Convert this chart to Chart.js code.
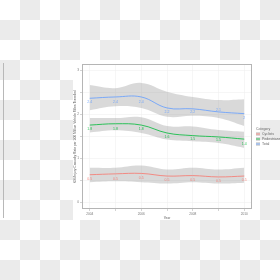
<!DOCTYPE html>
<html>
<head>
  <title>Casualty Rate Chart</title>
  <script src="https://cdn.jsdelivr.net/npm/chart.js@4.4.0/dist/chart.umd.min.js"></script>
  <style>
    body { margin: 0; width: 280px; height: 280px; overflow: hidden;
      background: repeating-conic-gradient(#ebebeb 0% 25%, #ffffff 0% 50%) 0 0 / 40px 40px; }
    #wrap { position: relative; width: 280px; height: 280px; }
    #rule { position: absolute; left: 3px; top: 63px; width: 1px; height: 155px; background: #b8b8b8; }
    canvas { position: absolute; left: 0; top: 0; }
  </style>
</head>
<body>
  <div id="wrap">
    <div id="rule"></div>
    <canvas id="chart" width="280" height="280"></canvas>
  </div>

  <script>
    // Data
    const years = [2004, 2005, 2006, 2007, 2008, 2009, 2010];
    const categories = ['Cyclists', 'Pedestrians', 'Total'];
    const colours = ['#F8766D', '#00BA38', '#619CFF'];

    // smoothed fit
    const fitCyclists = [0.63, 0.65, 0.66, 0.60, 0.61, 0.58, 0.60];
    const fitPedestrians = [1.76, 1.79, 1.76, 1.58, 1.52, 1.49, 1.44];
    const fitTotal = [2.37, 2.40, 2.40, 2.15, 2.13, 2.06, 2.02];

    // confidence band
    const upperCyclists = [0.79, 0.79, 0.84, 0.75, 0.79, 0.75, 0.79];
    const lowerCyclists = [0.46, 0.48, 0.46, 0.43, 0.46, 0.43, 0.45];
    const upperPedestrians = [1.92, 1.92, 1.94, 1.74, 1.73, 1.65, 1.61];
    const lowerPedestrians = [1.59, 1.64, 1.58, 1.43, 1.39, 1.35, 1.24];
    const upperTotal = [2.67, 2.60, 2.72, 2.52, 2.40, 2.33, 2.35];
    const lowerTotal = [2.10, 2.19, 2.15, 1.95, 1.97, 1.92, 1.74];

    // point labels (position and text)
    const pointsCyclists = [0.54, 0.54, 0.56, 0.50, 0.52, 0.48, 0.52];
    const pointsPedestrians = [1.67, 1.67, 1.67, 1.49, 1.45, 1.43, 1.33];
    const pointsTotal = [2.28, 2.28, 2.29, 2.06, 2.06, 2.10, 1.93];
    const textCyclists = ['0.5', '0.5', '0.5', '0.5', '0.5', '0.5', '0.5'];
    const textPedestrians = ['1.8', '1.8', '1.8', '1.6', '1.5', '1.5', '1.4'];
    const textTotal = ['2.4', '2.4', '2.4', '2.2', '2.2', '2.1', '2'];

    const xTickLabels = [2004, 2006, 2008, 2010];
    const yTickLabels = [0, 1, 2, 3];

    const fits = [fitCyclists, fitPedestrians, fitTotal];
    const uppers = [upperCyclists, upperPedestrians, upperTotal];
    const lowers = [lowerCyclists, lowerPedestrians, lowerTotal];
    const pointVals = [pointsCyclists, pointsPedestrians, pointsTotal];
    const pointText = [textCyclists, textPedestrians, textTotal];

    const pairs = arr => years.map((yr, i) => ({ x: yr, y: arr[i] }));

    const datasets = [];
    categories.forEach((name, k) => {
      datasets.push({
        label: name + ' upper', data: pairs(uppers[k]), fill: '+1',
        backgroundColor: 'rgba(150,150,150,0.36)', borderWidth: 0,
        pointRadius: 0, tension: 0.4, order: 3
      });
      datasets.push({
        label: name + ' lower', data: pairs(lowers[k]), fill: false,
        borderWidth: 0, pointRadius: 0, tension: 0.4, order: 3
      });
    });
    categories.forEach((name, k) => {
      datasets.push({
        label: name, data: pairs(fits[k]), borderColor: colours[k],
        borderWidth: 0.8, pointRadius: 0, tension: 0.4, fill: false, order: 1
      });
    });

    // white image box behind the plot
    const backdrop = {
      id: 'backdrop',
      beforeDraw(chart) {
        const ctx = chart.ctx;
        ctx.save();
        ctx.fillStyle = '#ffffff';
        ctx.fillRect(73, 60, 187, 160);
        ctx.restore();
      }
    };

    // value labels, panel border and legend
    const extras = {
      id: 'extras',
      afterDatasetsDraw(chart) {
        const ctx = chart.ctx;
        const xs = chart.scales.x, ys = chart.scales.y;
        ctx.save();
        ctx.font = '3.5px "Liberation Sans", Arial, sans-serif';
        ctx.textAlign = 'center';
        ctx.textBaseline = 'middle';
        ctx.globalAlpha = 0.85;
        categories.forEach((name, k) => {
          ctx.fillStyle = colours[k];
          years.forEach((yr, i) => {
            ctx.fillText(pointText[k][i], xs.getPixelForValue(yr), ys.getPixelForValue(pointVals[k][i]));
          });
        });
        ctx.globalAlpha = 1;
        const a = chart.chartArea;
        ctx.strokeStyle = '#b5b5b5';
        ctx.lineWidth = 1;
        ctx.strokeRect(a.left + 0.5, a.top + 0.5, a.right - a.left - 1, a.bottom - a.top - 1);
        ctx.restore();
      },
      afterDraw(chart) {
        const ctx = chart.ctx;
        const lx = 256, ly = 129;
        ctx.save();
        ctx.font = '3.5px "Liberation Sans", Arial, sans-serif';
        ctx.textBaseline = 'middle';
        ctx.fillStyle = '#666666';
        ctx.fillText('Category', lx, ly);
        categories.forEach((name, k) => {
          const y = ly + 5 + k * 5;
          ctx.fillStyle = '#d9d9d9';
          ctx.fillRect(lx, y - 2, 4, 4);
          ctx.strokeStyle = colours[k];
          ctx.lineWidth = 0.8;
          ctx.beginPath();
          ctx.moveTo(lx, y);
          ctx.lineTo(lx + 4, y);
          ctx.stroke();
          ctx.fillStyle = '#666666';
          ctx.fillText(name, lx + 6, y);
        });
        ctx.restore();
      }
    };

    const tickFont = { size: 3.2, family: '"Liberation Sans", Arial, sans-serif' };

    new Chart(document.getElementById('chart'), {
      type: 'line',
      data: { datasets },
      plugins: [backdrop, extras],
      options: {
        responsive: false,
        animation: false,
        layout: { padding: { left: 73, top: 64, right: 28, bottom: 60 } },
        plugins: { legend: { display: false }, tooltip: { enabled: false } },
        scales: {
          x: {
            type: 'linear', min: 2003.7, max: 2010.3,
            afterBuildTicks: s => { s.ticks = years.map(v => ({ value: v })); },
            afterFit: s => { s.height = 11; },
            ticks: {
              font: tickFont, color: '#777777', padding: 1, maxRotation: 0, autoSkip: false,
              callback: v => xTickLabels.includes(v) ? String(v) : ''
            },
            grid: { color: '#f0f0f0', lineWidth: 0.6, tickLength: 2, tickColor: '#b5b5b5' },
            border: { display: false },
            title: { display: true, text: 'Year', font: tickFont, color: '#555555', padding: 0 }
          },
          y: {
            min: -0.15, max: 3.15,
            afterBuildTicks: s => {
              s.ticks = [0, 0.5, 1, 1.5, 2, 2.5, 3].map(v => ({ value: v }));
            },
            afterFit: s => { s.width = 9; },
            ticks: {
              font: tickFont, color: '#777777', padding: 1,
              callback: v => yTickLabels.includes(v) ? String(v) : ''
            },
            grid: { color: '#f0f0f0', lineWidth: 0.6, tickLength: 2, tickColor: '#b5b5b5' },
            border: { display: false },
            title: {
              display: true,
              text: 'KSI/Injury Casualty Rate per 100 Million Vehicle Miles Travelled',
              font: { size: 3.3, family: '"Liberation Sans", Arial, sans-serif' },
              color: '#555555', padding: 0
            }
          }
        }
      }
    });
  </script>
</body>
</html>
